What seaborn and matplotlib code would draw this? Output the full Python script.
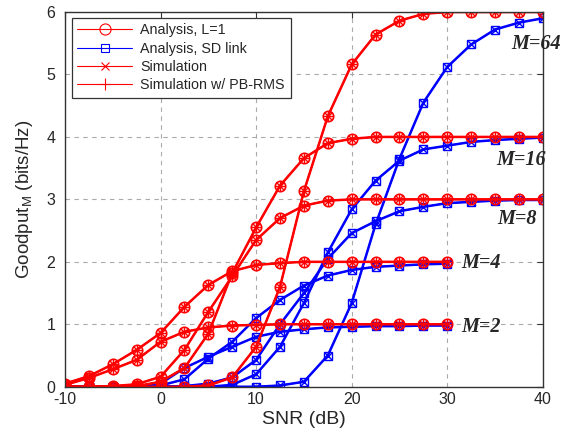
import numpy as np
import matplotlib
matplotlib.use('Agg')
import matplotlib.pyplot as plt
import seaborn as sns
from matplotlib.lines import Line2D

sns.set_style("whitegrid")
plt.rcParams['font.family'] = ['Liberation Sans', 'DejaVu Sans']
plt.rcParams['axes.unicode_minus'] = False

# SNR grid (dB)
snr = [-10, -7.5, -5, -2.5, 0, 2.5, 5, 7.5, 10, 12.5, 15, 17.5, 20,
       22.5, 25, 27.5, 30, 32.5, 35, 37.5, 40]
snr_short = snr[:17]  # M=2 and M=4 curves stop at 30 dB

# Analysis, L=1 (red)
red_m2 = [0.03, 0.14, 0.28, 0.43, 0.72, 0.88, 0.95, 0.98, 0.99, 1.0, 1.0,
          1.0, 1.0, 1.0, 1.0, 1.0, 1.0]
red_m4 = [0.05, 0.17, 0.36, 0.59, 0.86, 1.28, 1.63, 1.85, 1.95, 1.98, 2.0,
          2.0, 2.0, 2.0, 2.0, 2.0, 2.0]
red_m8 = [0.0, 0.0, 0.01, 0.04, 0.16, 0.59, 1.2, 1.77, 2.35, 2.7, 2.9,
          2.98, 3.0, 3.0, 3.0, 3.0, 3.0, 3.0, 3.0, 3.0, 3.0]
red_m16 = [0.0, 0.0, 0.0, 0.01, 0.08, 0.3, 0.85, 1.82, 2.55, 3.22, 3.66,
           3.9, 3.97, 4.0, 4.0, 4.0, 4.0, 4.0, 4.0, 4.0, 4.0]
red_m64 = [0.0, 0.0, 0.0, 0.0, 0.0, 0.0, 0.02, 0.15, 0.64, 1.6, 3.13,
           4.33, 5.16, 5.64, 5.86, 5.97, 6.0, 6.0, 6.0, 6.0, 6.0]

# Analysis, SD link (blue)
blue_m2 = [0.0, 0.0, 0.0, 0.01, 0.05, 0.3, 0.48, 0.64, 0.8, 0.88, 0.92,
           0.95, 0.96, 0.97, 0.97, 0.98, 0.98]
blue_m4 = [0.0, 0.0, 0.0, 0.0, 0.02, 0.12, 0.45, 0.72, 1.1, 1.39, 1.62,
           1.78, 1.87, 1.92, 1.94, 1.96, 1.97]
blue_m8 = [0.0, 0.0, 0.0, 0.0, 0.0, 0.01, 0.05, 0.15, 0.43, 1.0, 1.5,
           2.05, 2.46, 2.65, 2.81, 2.88, 2.94, 2.96, 2.98, 2.99, 2.99]
blue_m16 = [0.0, 0.0, 0.0, 0.0, 0.0, 0.0, 0.0, 0.03, 0.2, 0.64, 1.34,
            2.15, 2.84, 3.3, 3.62, 3.8, 3.86, 3.92, 3.95, 3.97, 3.99]
blue_m64 = [0.0, 0.0, 0.0, 0.0, 0.0, 0.0, 0.0, 0.0, 0.0, 0.02, 0.08,
            0.5, 1.34, 2.6, 3.65, 4.55, 5.12, 5.48, 5.72, 5.83, 5.9]

m_labels = ['M=64', 'M=16', 'M=8', 'M=4', 'M=2']
m_label_x = [39.3, 37.7, 37.3, 33.5, 33.5]
m_label_y = [5.48, 3.63, 2.68, 1.98, 0.96]

red_series = [(snr_short, red_m2), (snr_short, red_m4), (snr, red_m8),
              (snr, red_m16), (snr, red_m64)]
blue_series = [(snr_short, blue_m2), (snr_short, blue_m4), (snr, blue_m8),
               (snr, blue_m16), (snr, blue_m64)]

fig = plt.figure(figsize=(5.72, 4.37), dpi=100)
ax = fig.add_axes([0.1136, 0.115, 0.8354, 0.8575])

RED = '#ff0000'
BLUE = '#0000ff'

for xs, ys in blue_series:
    sns.lineplot(x=xs, y=ys, ax=ax, color=BLUE, linewidth=1.8, marker='s',
                 markersize=6, markerfacecolor='none', markeredgecolor=BLUE,
                 markeredgewidth=1.0)
    sns.lineplot(x=xs, y=ys, ax=ax, color=BLUE, linewidth=1.0, marker='x',
                 markersize=6, markeredgecolor=BLUE, markeredgewidth=1.0)

for xs, ys in red_series:
    sns.lineplot(x=xs, y=ys, ax=ax, color=RED, linewidth=1.8, marker='o',
                 markersize=7.5, markerfacecolor='none', markeredgecolor=RED,
                 markeredgewidth=1.2)
    sns.lineplot(x=xs, y=ys, ax=ax, color=RED, linewidth=1.0, marker='x',
                 markersize=5.5, markeredgecolor=RED, markeredgewidth=1.0)
    sns.lineplot(x=xs, y=ys, ax=ax, color=RED, linewidth=1.0, marker='+',
                 markersize=7, markeredgecolor=RED, markeredgewidth=1.0)

for lab, lx, ly in zip(m_labels, m_label_x, m_label_y):
    ax.text(lx, ly, lab, family=['Liberation Serif', 'DejaVu Serif'],
            style='italic', fontweight='bold', fontsize=14.5,
            ha='center', va='center', clip_on=False)

ax.set_xlim(-10, 40)
ax.set_ylim(0, 6)
ax.set_xticks([-10, 0, 10, 20, 30, 40])
ax.set_yticks([0, 1, 2, 3, 4, 5, 6])
ax.tick_params(direction='in', top=True, right=True, length=4,
               labelsize=11.5, color='#333333')
ax.tick_params(axis='x', pad=4)
ax.tick_params(axis='y', pad=7)
ax.grid(True, linestyle=(0, (4, 4)), color='#aaaaaa', linewidth=0.8)
for sp in ax.spines.values():
    sp.set_color('#333333')
    sp.set_linewidth(1.0)

ax.set_xlabel('SNR (dB)', fontsize=14, labelpad=3)
ax.set_ylabel('Goodput$_{\\mathregular{M}}$ (bits/Hz)', fontsize=13.5, labelpad=8)

handles = [
    Line2D([], [], color=RED, lw=0.8, marker='o', markersize=8,
           markerfacecolor='none', markeredgewidth=0.8),
    Line2D([], [], color=BLUE, lw=0.8, marker='s', markersize=6,
           markerfacecolor='none', markeredgewidth=0.8),
    Line2D([], [], color=RED, lw=0.8, marker='x', markersize=6,
           markeredgewidth=0.8),
    Line2D([], [], color=RED, lw=0.8, marker='+', markersize=9,
           markeredgewidth=0.8),
]
names = ['Analysis, L=1', 'Analysis, SD link', 'Simulation',
         'Simulation w/ PB-RMS']
leg = ax.legend(handles, names, loc='upper left', bbox_to_anchor=(0.008, 0.993),
                fontsize=10.3, handlelength=3.8, labelspacing=0.3,
                borderpad=0.4, handletextpad=0.6, fancybox=False,
                framealpha=1, edgecolor='#333333', borderaxespad=0.2)
leg.get_frame().set_linewidth(0.9)

plt.savefig('out.png', dpi=100)
plt.close()
